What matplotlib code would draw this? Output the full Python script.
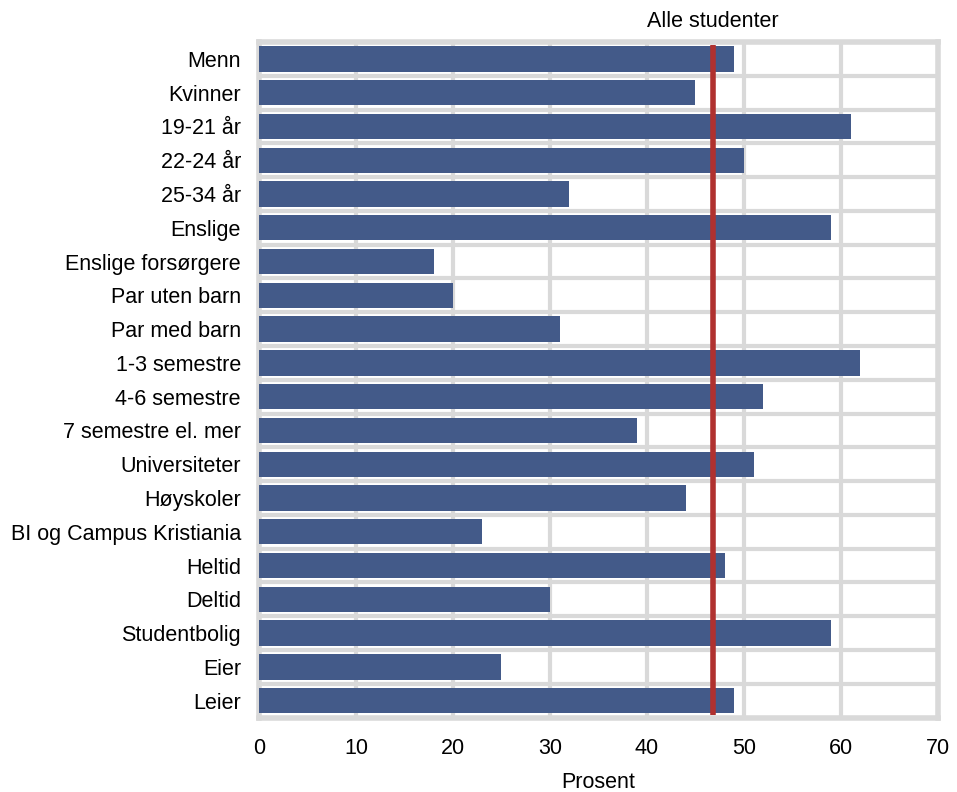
import matplotlib
matplotlib.use("Agg")
import matplotlib.pyplot as plt

plt.rcParams['font.family'] = ['Liberation Sans', 'DejaVu Sans']

categories = ["Menn", "Kvinner", "19-21 år", "22-24 år", "25-34 år", "Enslige",
              "Enslige forsørgere", "Par uten barn", "Par med barn", "1-3 semestre",
              "4-6 semestre", "7 semestre el. mer", "Universiteter", "Høyskoler",
              "BI og Campus Kristiania", "Heltid", "Deltid", "Studentbolig", "Eier", "Leier"]
values = [49, 45, 61, 50, 32, 59, 18, 20, 31, 62, 52, 39, 51, 44, 23, 48, 30, 59, 25, 49]
all_students = 46.8
all_label = "Alle studenter"
xticks = [0, 10, 20, 30, 40, 50, 60, 70]
xlabel = "Prosent"

FS = 15.5

fig = plt.figure(figsize=(9.57, 7.92), dpi=100)
ax = fig.add_axes([0.2706, 0.094, 0.7095, 0.853])

y = list(range(len(categories)))
ax.barh(y, values, height=0.75, color="#435a89", zorder=3)
ax.set_ylim(len(categories) - 0.5, -0.5)
ax.set_xlim(0, 70)

grid_c = "#d9d9d9"
for xv in xticks[1:-1]:
    ax.axvline(xv, color=grid_c, lw=3, zorder=1)
for k in range(len(categories) - 1):
    ax.axhline(k + 0.5, color=grid_c, lw=3, zorder=1)

for s in ax.spines.values():
    s.set_color(grid_c)
    s.set_linewidth(4)

ax.vlines(all_students, -0.42, len(categories) - 0.58, color="#b0312f", lw=4, zorder=4)
ax.text(all_students, -0.8, all_label, ha="center", va="bottom", fontsize=FS)

ax.set_yticks(y)
ax.set_yticklabels(categories, fontsize=FS)
ax.set_xticks(xticks)
ax.set_xticklabels([str(v) for v in xticks], fontsize=FS)
ax.tick_params(axis="both", length=0)
ax.tick_params(axis="x", pad=15)
ax.tick_params(axis="y", pad=13)
ax.set_xlabel(xlabel, fontsize=FS, labelpad=9)

fig.savefig("out.png", dpi=100)
